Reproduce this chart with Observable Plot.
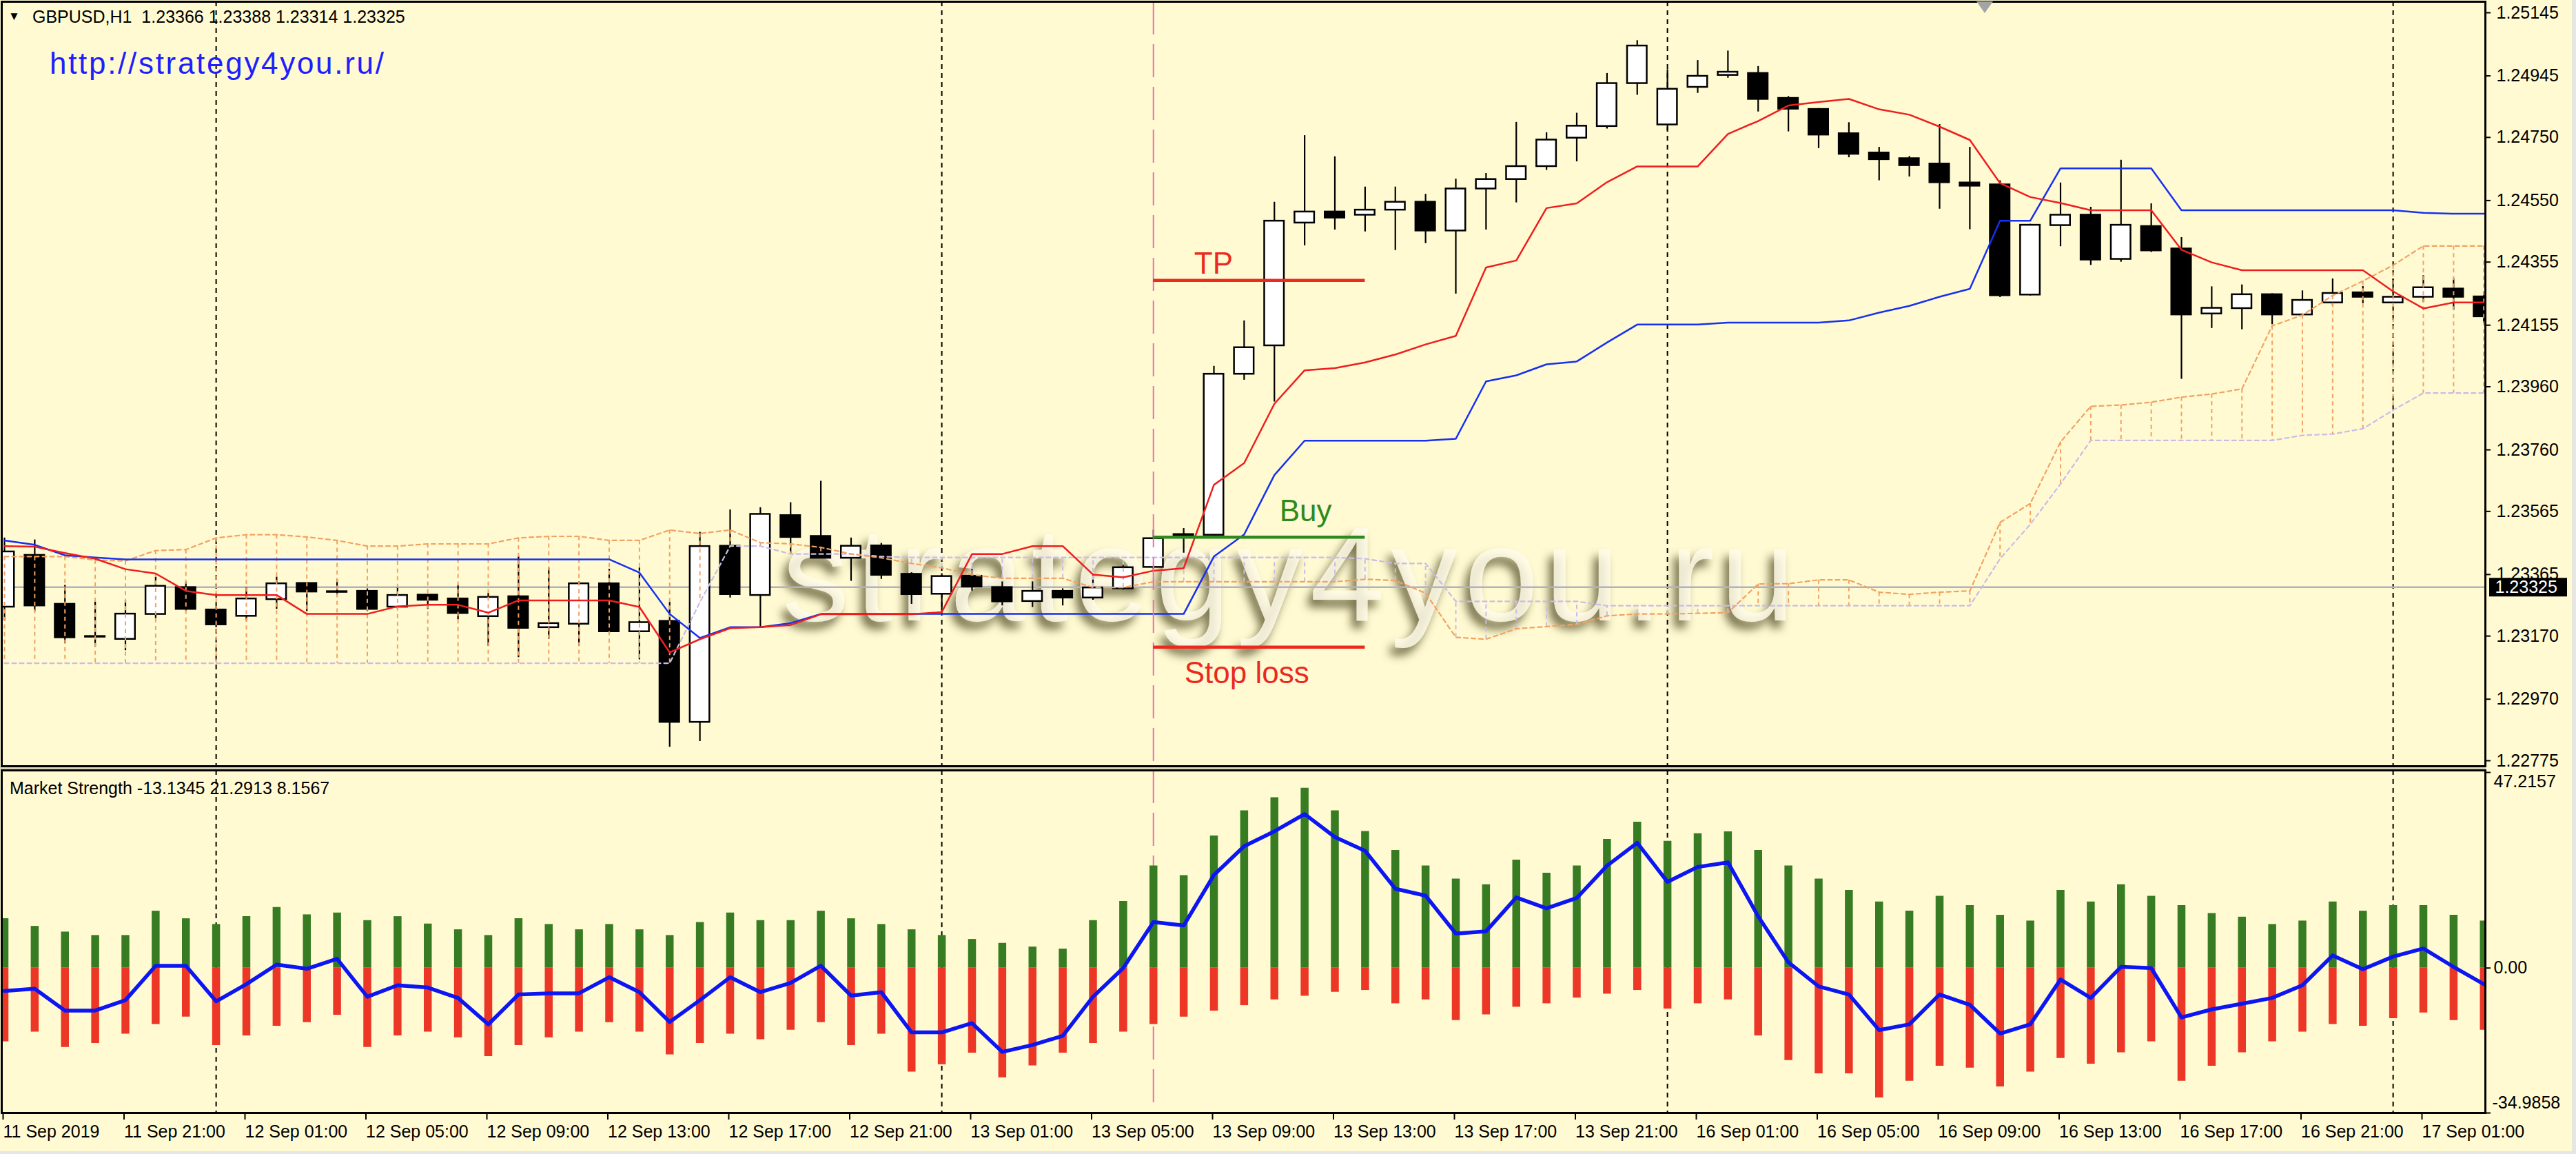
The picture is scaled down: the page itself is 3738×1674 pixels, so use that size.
<!DOCTYPE html>
<html>
<head>
<meta charset="utf-8">
<script src="https://cdn.jsdelivr.net/npm/d3@7"></script>
<script src="https://cdn.jsdelivr.net/npm/@observablehq/plot@0.6"></script>
<style>
html, body { margin: 0; padding: 0; background: #FFFAD2; overflow: hidden; }
#wrap { position: relative; width: 3738px; height: 1674px; overflow: hidden; background: #FFFAD2;
  font-family: "Liberation Sans", Arial, sans-serif; }
.abs { position: absolute; white-space: nowrap; }
#watermark { left: 1135px; top: 772px; font-size: 195px; line-height: 120px; letter-spacing: 9px;
  color: rgba(255, 252, 232, 0.85); text-shadow: -7px 11px 13px rgba(92, 86, 48, 0.82); z-index: 0; }
#topPane, #bottomPane { position: absolute; left: 0; z-index: 1; }
#topPane { top: 0; }
#bottomPane { top: 1110px; }
#title { left: 47px; top: 12px; font-size: 25px; line-height: 25px; color: #000; z-index: 2; }
#titleMark { left: 12px; top: 15px; font-size: 17px; line-height: 17px; color: #000; z-index: 2; }
#url { left: 72px; top: 70px; font-size: 44px; line-height: 44px; letter-spacing: 2.7px; color: #1E1EFF; z-index: 2; }
#msLabel { left: 14px; top: 1131px; font-size: 25px; line-height: 25px; color: #000; z-index: 2; }
#band { left: 0; top: 1112px; width: 3607px; height: 4px; background: #D8D4BC; z-index: 0; }
#rightStrip { left: 3732px; top: 0; width: 6px; height: 1674px; background: #E6E6E2; z-index: 3; }
#bottomStrip { left: 0; top: 1670px; width: 3738px; height: 4px; background: #E6E6E2; z-index: 3; }
#shiftMark { left: 2868px; top: 2px; width: 0; height: 0; border-left: 12px solid transparent;
  border-right: 12px solid transparent; border-top: 17px solid #A4A4A4; z-index: 3; }
</style>
</head>
<body>
<div id="wrap">
  <div id="watermark" class="abs">strategy4you.ru</div>
  <div id="band" class="abs"></div>
  <div id="topPane"></div>
  <div id="bottomPane"></div>
  <div id="titleMark" class="abs">▼</div>
  <div id="title" class="abs">GBPUSD,H1&nbsp;&nbsp;1.23366 1.23388 1.23314 1.23325</div>
  <div id="url" class="abs">http://strategy4you.ru/</div>
  <div id="msLabel" class="abs">Market Strength -13.1345 21.2913 8.1567</div>
  <div id="shiftMark" class="abs"></div>
  <div id="rightStrip" class="abs"></div>
  <div id="bottomStrip" class="abs"></div>
</div>
<script>
// ---------------- DATA ----------------
const tickIndex = [0, 4, 8, 12, 16, 20, 24, 28, 32, 36, 40, 44, 48, 52, 56, 60, 64, 68, 72, 76, 80];
const tickLabels = ["11 Sep 2019", "11 Sep 21:00", "12 Sep 01:00", "12 Sep 05:00", "12 Sep 09:00",
  "12 Sep 13:00", "12 Sep 17:00", "12 Sep 21:00", "13 Sep 01:00", "13 Sep 05:00", "13 Sep 09:00",
  "13 Sep 13:00", "13 Sep 17:00", "13 Sep 21:00", "16 Sep 01:00", "16 Sep 05:00", "16 Sep 09:00",
  "16 Sep 13:00", "16 Sep 17:00", "16 Sep 21:00", "17 Sep 01:00"];
const daySeparators = [7, 31, 55, 79];
const signalBar = 38;

const priceTicks = [1.25145, 1.24945, 1.24750, 1.24550, 1.24355, 1.24155, 1.23960,
  1.23760, 1.23565, 1.23365, 1.23170, 1.22970, 1.22775];
const bidPrice = 1.23325;

const openPrices = [
  1.23262, 1.23426, 1.23271, 1.23167, 1.23160, 1.23239, 1.23324, 1.23253, 1.23233, 1.23286,
  1.23337, 1.23311, 1.23312, 1.23262, 1.23300, 1.23288, 1.23232, 1.23295, 1.23197, 1.23208,
  1.23336, 1.23184, 1.23217, 1.22897, 1.23455, 1.23299, 1.23552, 1.23486, 1.23417, 1.23456,
  1.23366, 1.23303, 1.23360, 1.23324, 1.23280, 1.23312, 1.23291, 1.23320, 1.23388, 1.23492,
  1.23490, 1.24000, 1.24090, 1.24479, 1.24514, 1.24504, 1.24520, 1.24545, 1.24454, 1.24587,
  1.24617, 1.24658, 1.24748, 1.24785, 1.24921, 1.24790, 1.24909, 1.24947, 1.24953, 1.24874,
  1.24839, 1.24762, 1.24701, 1.24683, 1.24666, 1.24606, 1.24600, 1.24251, 1.24471, 1.24504,
  1.24364, 1.24468, 1.24397, 1.24191, 1.24208, 1.24252, 1.24188, 1.24226, 1.24258, 1.24226,
  1.24244, 1.24270, 1.24245];
const highPrices = [
  1.23481, 1.23475, 1.23331, 1.23278, 1.23284, 1.23357, 1.23342, 1.23262, 1.23324, 1.23357,
  1.23340, 1.23350, 1.23320, 1.23324, 1.23301, 1.23331, 1.23306, 1.23422, 1.23386, 1.23342,
  1.23382, 1.23386, 1.23277, 1.23499, 1.23570, 1.23577, 1.23593, 1.23661, 1.23481, 1.23464,
  1.23371, 1.23368, 1.23381, 1.23342, 1.23342, 1.23320, 1.23364, 1.23393, 1.23506, 1.23511,
  1.24025, 1.24169, 1.24545, 1.24756, 1.24689, 1.24593, 1.24593, 1.24570, 1.24618, 1.24636,
  1.24798, 1.24765, 1.24827, 1.24953, 1.25057, 1.24965, 1.24994, 1.25024, 1.24975, 1.24880,
  1.24842, 1.24797, 1.24719, 1.24690, 1.24791, 1.24719, 1.24613, 1.24475, 1.24606, 1.24529,
  1.24678, 1.24540, 1.24433, 1.24277, 1.24283, 1.24255, 1.24264, 1.24302, 1.24278, 1.24302,
  1.24312, 1.24303, 1.24260];
const lowPrices = [
  1.23218, 1.23248, 1.23146, 1.23135, 1.23124, 1.23226, 1.23248, 1.23197, 1.23219, 1.23255,
  1.23248, 1.23299, 1.23248, 1.23255, 1.23255, 1.23222, 1.23138, 1.23102, 1.23160, 1.23138,
  1.23176, 1.23095, 1.22818, 1.22836, 1.23291, 1.23198, 1.23430, 1.23415, 1.23344, 1.23350,
  1.23271, 1.23248, 1.23313, 1.23266, 1.23261, 1.23266, 1.23284, 1.23316, 1.23379, 1.23433,
  1.23480, 1.23981, 1.23912, 1.24407, 1.24457, 1.24451, 1.24392, 1.24414, 1.24254, 1.24457,
  1.24543, 1.24646, 1.24673, 1.24777, 1.24884, 1.24771, 1.24890, 1.24938, 1.24831, 1.24768,
  1.24715, 1.24686, 1.24613, 1.24625, 1.24523, 1.24458, 1.24243, 1.24248, 1.24404, 1.24345,
  1.24355, 1.24386, 1.23984, 1.24145, 1.24141, 1.24157, 1.24182, 1.24218, 1.24224, 1.24226,
  1.24228, 1.24203, 1.24160];
const closePrices = [
  1.23437, 1.23266, 1.23165, 1.23169, 1.23240, 1.23328, 1.23255, 1.23206, 1.23288, 1.23336,
  1.23310, 1.23309, 1.23255, 1.23299, 1.23284, 1.23242, 1.23293, 1.23195, 1.23210, 1.23336,
  1.23184, 1.23213, 1.22897, 1.23454, 1.23302, 1.23556, 1.23483, 1.23417, 1.23455, 1.23363,
  1.23302, 1.23359, 1.23326, 1.23279, 1.23312, 1.23291, 1.23323, 1.23387, 1.23479, 1.23487,
  1.24000, 1.24084, 1.24485, 1.24514, 1.24495, 1.24520, 1.24545, 1.24454, 1.24587, 1.24617,
  1.24658, 1.24742, 1.24786, 1.24921, 1.25040, 1.24903, 1.24944, 1.24957, 1.24871, 1.24840,
  1.24758, 1.24697, 1.24680, 1.24661, 1.24607, 1.24596, 1.24249, 1.24472, 1.24504, 1.24362,
  1.24472, 1.24391, 1.24188, 1.24209, 1.24252, 1.24188, 1.24234, 1.24256, 1.24244, 1.24244,
  1.24274, 1.24244, 1.24182];

const tenkanSen = [
  1.23455, 1.23453, 1.23433, 1.23415, 1.23382, 1.23368, 1.23313, 1.23300, 1.23300, 1.23300,
  1.23240, 1.23240, 1.23240, 1.23264, 1.23269, 1.23269, 1.23244, 1.23283, 1.23283, 1.23283,
  1.23283, 1.23262, 1.23118, 1.23160, 1.23195, 1.23198, 1.23205, 1.23239, 1.23239, 1.23239,
  1.23239, 1.23246, 1.23430, 1.23430, 1.23455, 1.23455, 1.23365, 1.23356, 1.23377, 1.23385,
  1.23649, 1.23718, 1.23906, 1.24012, 1.24019, 1.24037, 1.24062, 1.24094, 1.24121, 1.24338,
  1.24360, 1.24526, 1.24541, 1.24608, 1.24658, 1.24658, 1.24658, 1.24761, 1.24802, 1.24851,
  1.24862, 1.24872, 1.24839, 1.24822, 1.24784, 1.24742, 1.24605, 1.24561, 1.24542, 1.24519,
  1.24519, 1.24519, 1.24394, 1.24354, 1.24329, 1.24329, 1.24329, 1.24329, 1.24329, 1.24262,
  1.24208, 1.24227, 1.24227];
const kijunSen = [
  1.23473, 1.23459, 1.23426, 1.23419, 1.23413, 1.23413, 1.23413, 1.23413, 1.23413, 1.23413,
  1.23413, 1.23413, 1.23413, 1.23413, 1.23413, 1.23413, 1.23413, 1.23413, 1.23413, 1.23413,
  1.23413, 1.23371, 1.23240, 1.23164, 1.23198, 1.23198, 1.23211, 1.23240, 1.23240, 1.23240,
  1.23240, 1.23240, 1.23240, 1.23240, 1.23240, 1.23240, 1.23240, 1.23240, 1.23240, 1.23240,
  1.23422, 1.23492, 1.23680, 1.23789, 1.23789, 1.23789, 1.23789, 1.23789, 1.23795, 1.23977,
  1.23996, 1.24031, 1.24040, 1.24100, 1.24157, 1.24157, 1.24157, 1.24163, 1.24163, 1.24163,
  1.24163, 1.24170, 1.24195, 1.24216, 1.24245, 1.24270, 1.24486, 1.24486, 1.24652, 1.24652,
  1.24652, 1.24652, 1.24519, 1.24519, 1.24519, 1.24519, 1.24519, 1.24519, 1.24519, 1.24519,
  1.24511, 1.24508, 1.24508];
const senkouA = [
  1.23422, 1.23422, 1.23422, 1.23411, 1.23408, 1.23441, 1.23444, 1.23481, 1.23491, 1.23491,
  1.23484, 1.23473, 1.23455, 1.23455, 1.23462, 1.23462, 1.23462, 1.23481, 1.23486, 1.23486,
  1.23473, 1.23473, 1.23506, 1.23495, 1.23506, 1.23466, 1.23462, 1.23451, 1.23430, 1.23418,
  1.23400, 1.23386, 1.23364, 1.23353, 1.23353, 1.23353, 1.23324, 1.23324, 1.23342, 1.23342,
  1.23342, 1.23342, 1.23342, 1.23342, 1.23342, 1.23350, 1.23346, 1.23306, 1.23166, 1.23160,
  1.23193, 1.23200, 1.23207, 1.23234, 1.23240, 1.23240, 1.23242, 1.23244, 1.23335, 1.23336,
  1.23348, 1.23348, 1.23309, 1.23302, 1.23309, 1.23313, 1.23530, 1.23590, 1.23785, 1.23898,
  1.23902, 1.23911, 1.23927, 1.23937, 1.23953, 1.24153, 1.24187, 1.24249, 1.24295, 1.24345,
  1.24406, 1.24406, 1.24406];
const senkouB = [
  1.23084, 1.23084, 1.23084, 1.23084, 1.23084, 1.23084, 1.23084, 1.23084, 1.23084, 1.23084,
  1.23084, 1.23084, 1.23084, 1.23084, 1.23084, 1.23084, 1.23084, 1.23084, 1.23084, 1.23084,
  1.23084, 1.23084, 1.23084, 1.23277, 1.23455, 1.23455, 1.23430, 1.23430, 1.23430, 1.23422,
  1.23419, 1.23419, 1.23419, 1.23419, 1.23419, 1.23419, 1.23419, 1.23419, 1.23419, 1.23419,
  1.23419, 1.23419, 1.23419, 1.23419, 1.23419, 1.23415, 1.23400, 1.23400, 1.23280, 1.23280,
  1.23280, 1.23280, 1.23280, 1.23266, 1.23266, 1.23266, 1.23266, 1.23266, 1.23266, 1.23266,
  1.23266, 1.23266, 1.23266, 1.23266, 1.23266, 1.23266, 1.23415, 1.23524, 1.23652, 1.23790,
  1.23790, 1.23790, 1.23790, 1.23790, 1.23790, 1.23790, 1.23806, 1.23810, 1.23827, 1.23886,
  1.23940, 1.23940, 1.23940];

const levelNames = ["TP", "Buy", "Stop loss"];
const levelPrices = [1.24297, 1.23483, 1.23135];
const levelFromBar = 38;
const levelToBar = 45;

const strengthUp = [
  11.92, 10.09, 8.71, 7.88, 7.88, 13.75, 11.92, 10.54, 12.42, 14.64,
  12.87, 13.31, 11.48, 12.42, 10.65, 9.26, 7.88, 11.92, 10.54, 9.26,
  10.54, 9.26, 7.88, 11.04, 13.31, 11.48, 11.48, 13.75, 11.92, 10.54,
  9.26, 7.88, 6.93, 5.99, 5.10, 4.60, 11.48, 16.08, 24.68, 22.35,
  31.89, 37.99, 41.15, 43.43, 37.99, 33.00, 28.40, 24.68, 21.52, 20.13,
  26.07, 22.91, 24.68, 31.06, 35.22, 30.62, 32.45, 32.89, 28.40, 24.68,
  21.52, 18.75, 15.97, 13.75, 17.36, 15.09, 12.76, 11.37, 18.75, 15.97,
  20.13, 17.36, 15.09, 13.20, 12.31, 10.54, 11.37, 15.97, 13.75, 15.09,
  15.09, 12.76, 11.37];
const strengthDown = [
  -17.75, -15.42, -19.13, -18.19, -15.92, -13.59, -11.81, -18.69, -16.36, -14.03,
  -13.14, -11.37, -19.13, -16.36, -15.42, -16.81, -21.35, -18.69, -16.81, -15.42,
  -13.14, -15.42, -20.91, -18.19, -15.92, -17.25, -14.98, -13.14, -18.69, -15.92,
  -25.07, -23.29, -20.52, -26.46, -23.57, -20.52, -18.19, -15.42, -13.59, -11.81,
  -10.37, -9.04, -7.65, -6.77, -5.82, -5.38, -8.60, -7.65, -12.65, -11.26,
  -9.43, -8.60, -7.21, -6.27, -5.38, -9.87, -8.60, -7.65, -16.36, -22.30,
  -25.51, -25.51, -31.34, -27.29, -23.68, -24.13, -28.67, -25.07, -21.80, -23.18,
  -20.41, -17.75, -27.29, -23.68, -20.41, -17.75, -15.42, -13.59, -14.03, -12.20,
  -10.82, -12.65, -14.98];
const strengthLine = [
  -5.55, -4.99, -10.26, -10.26, -7.76, 0.55, 0.55, -8.04, -3.88, 0.83,
  -0.17, 2.22, -6.93, -4.16, -4.71, -7.21, -13.59, -6.38, -6.10, -6.10,
  -2.22, -5.82, -13.03, -7.76, -2.22, -5.82, -3.61, 0.55, -6.66, -5.82,
  -15.53, -15.53, -13.31, -20.24, -18.58, -16.36, -6.93, 0.00, 11.09, 10.26,
  22.46, 29.40, 33.00, 37.16, 31.61, 28.29, 19.13, 17.47, 8.32, 8.87,
  17.03, 14.42, 16.92, 24.68, 30.23, 20.80, 24.40, 25.51, 12.48, 1.39,
  -4.44, -6.38, -14.98, -13.59, -6.38, -8.87, -15.81, -13.59, -2.77, -7.21,
  0.28, 0.00, -11.92, -9.98, -8.60, -7.21, -4.16, 3.05, -0.28, 2.77,
  4.71, 0.28, -3.88];
const strengthTicks = [47.2157, 0, -34.9858];
const strengthTickLabels = ["47.2157", "0.00", "-34.9858"];

// ---------------- BUILD TABLES ----------------
const bars = openPrices.map((o, i) => ({
  i, open: o, high: highPrices[i], low: lowPrices[i], close: closePrices[i],
  tenkan: tenkanSen[i], kijun: kijunSen[i], a: senkouA[i], b: senkouB[i]
}));
const strength = strengthUp.map((u, i) => ({i, up: u, down: strengthDown[i], line: strengthLine[i]}));
const levels = levelNames.map((name, k) => ({name, price: levelPrices[k], from: levelFromBar, to: levelToBar}));

// ---------------- STYLE ----------------
const FONT = '"Liberation Sans", Arial, sans-serif';
const ORANGE = "#F2A262", LAVENDER = "#C9BCE6";
const RED = "#EE1E1E", BLUE = "#1530F0", PINK = "#F06EAA";
const LVL_RED = "#EA2A1E", LVL_GREEN = "#2E8A1E";
const W = 3738;
const xScale = {type: "linear", domain: [0, 82], range: [6, 6 + 82 * 43.875]};
const svgStyle = {background: "transparent", fontFamily: FONT, fontSize: "25px", color: "#000", overflow: "visible"};

const topPlot = Plot.plot({
  width: W, height: 1112,
  marginLeft: 2, marginRight: 132, marginTop: 2, marginBottom: 1,
  style: svgStyle,
  x: {...xScale, axis: null},
  y: {domain: [1.22775, 1.25145], range: [1103, 18]},
  marks: [
    Plot.ruleX(daySeparators, {x: d => d, stroke: "#000", strokeWidth: 2, strokeDasharray: "7,6"}),
    Plot.ruleY([bidPrice], {y: d => d, stroke: "#B2B2BC", strokeWidth: 2.5}),
    // candles
    Plot.ruleX(bars, {x: "i", y1: "low", y2: "high", stroke: "#000", strokeWidth: 2.2, clip: true}),
    Plot.rect(bars, {x1: d => d.i - 0.325, x2: d => d.i + 0.325, y1: "open", y2: "close",
      fill: d => d.close >= d.open ? "#FFFFFF" : "#000000", stroke: "#000", strokeWidth: 2.5, clip: true}),
    // Ichimoku cloud
    Plot.ruleX(bars, {x: "i", y1: "a", y2: "b", stroke: d => d.a >= d.b ? ORANGE : LAVENDER,
      strokeWidth: 2, strokeDasharray: "6,5", clip: true}),
    Plot.line(bars, {x: "i", y: "b", stroke: LAVENDER, strokeWidth: 2.2, strokeDasharray: "6,5", clip: true}),
    Plot.line(bars, {x: "i", y: "a", stroke: ORANGE, strokeWidth: 2.2, strokeDasharray: "6,5", clip: true}),
    Plot.line(bars, {x: "i", y: "kijun", stroke: BLUE, strokeWidth: 2.5, clip: true}),
    Plot.line(bars, {x: "i", y: "tenkan", stroke: RED, strokeWidth: 2.5, clip: true}),
    // signal vertical line
    Plot.ruleX([signalBar], {x: d => d, stroke: PINK, strokeWidth: 2, strokeDasharray: "48,14"}),
    // trade levels
    Plot.ruleY(levels, {y: "price", x1: "from", x2: "to", stroke: d => d.name === "Buy" ? LVL_GREEN : LVL_RED, strokeWidth: 4.5}),
    Plot.text(levels.filter(d => d.name === "TP"), {x: "from", y: "price", text: "name", textAnchor: "start",
      lineAnchor: "bottom", dx: 59, dy: -10, fontSize: 44, fill: LVL_RED}),
    Plot.text(levels.filter(d => d.name === "Buy"), {x: "from", y: "price", text: "name", textAnchor: "start",
      lineAnchor: "bottom", dx: 183, dy: -23, fontSize: 44, fill: LVL_GREEN}),
    Plot.text(levels.filter(d => d.name === "Stop loss"), {x: "from", y: "price", text: "name", textAnchor: "start",
      lineAnchor: "bottom", dx: 45, dy: 52, fontSize: 44, fill: LVL_RED}),
    Plot.frame({stroke: "#000", strokeWidth: 3}),
    Plot.axisY(priceTicks, {anchor: "right", tickSize: 7, tickPadding: 9, strokeWidth: 2,
      tickFormat: d => d.toFixed(5), fontSize: 25, label: null}),
    // current price tag
    Plot.ruleY([bidPrice], {y: d => d, stroke: "#000", strokeWidth: 27, insetLeft: 3610, insetRight: -119}),
    Plot.text([bidPrice], {y: d => d, text: d => d.toFixed(5), frameAnchor: "right", textAnchor: "start",
      dx: 14, fill: "#FFFFFF", fontSize: 25})
  ]
});
document.getElementById("topPane").appendChild(topPlot);

const bottomPlot = Plot.plot({
  width: W, height: 564,
  marginLeft: 2, marginRight: 132, marginTop: 7, marginBottom: 60,
  style: svgStyle,
  x: xScale,
  y: {domain: [-34.9858, 47.2157], range: [504, 10]},
  marks: [
    Plot.ruleX(daySeparators, {x: d => d, stroke: "#000", strokeWidth: 2, strokeDasharray: "7,6"}),
    Plot.ruleX([signalBar], {x: d => d, stroke: PINK, strokeWidth: 2, strokeDasharray: "48,14"}),
    Plot.ruleX(strength, {x: "i", y1: 0, y2: "up", stroke: "#377C22", strokeWidth: 11.5, clip: true}),
    Plot.ruleX(strength, {x: "i", y1: 0, y2: "down", stroke: "#EC3626", strokeWidth: 11.5, clip: true}),
    Plot.line(strength, {x: "i", y: "line", stroke: "#0C16F2", strokeWidth: 5.5, strokeLinejoin: "round", clip: true}),
    Plot.frame({stroke: "#000", strokeWidth: 3}),
    Plot.axisX(tickIndex, {anchor: "bottom", tickSize: 10, tickPadding: 8, strokeWidth: 2,
      tickFormat: d => tickLabels[tickIndex.indexOf(d)], textAnchor: "start", dx: -2, fontSize: 25, label: null}),
    Plot.axisY(strengthTicks, {anchor: "right", tickSize: 7, strokeWidth: 2, tickFormat: () => "", label: null}),
    Plot.text([0], {y: d => strengthTicks[d], text: d => strengthTickLabels[d], frameAnchor: "right",
      textAnchor: "start", lineAnchor: "top", dx: 12, dy: 4, fontSize: 25}),
    Plot.text([1], {y: d => strengthTicks[d], text: d => strengthTickLabels[d], frameAnchor: "right",
      textAnchor: "start", lineAnchor: "middle", dx: 12, fontSize: 25}),
    Plot.text([2], {y: d => strengthTicks[d], text: d => strengthTickLabels[d], frameAnchor: "right",
      textAnchor: "start", lineAnchor: "bottom", dx: 10, dy: -7, fontSize: 25})
  ]
});
document.getElementById("bottomPane").appendChild(bottomPlot);
</script>
</body>
</html>
